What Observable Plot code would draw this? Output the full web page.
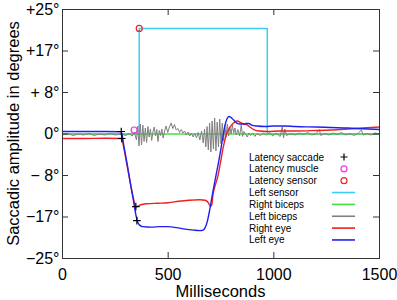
<!DOCTYPE html>
<html><head><meta charset="utf-8">
<script src="https://cdn.jsdelivr.net/npm/d3@7"></script>
<script src="https://cdn.jsdelivr.net/npm/@observablehq/plot@0.6"></script>
<style>body{margin:0;background:#fff}</style>
</head><body><div id="chart"></div>
<script>
// ---- data ----
const xTicks = [0, 500, 1000, 1500];
const yTicks = [-25, -50/3, -25/3, 0, 25/3, 50/3, 25];
const yTickLabels = ["\u221225\u00b0", "\u221217\u00b0", "\u2212 8\u00b0", "0\u00b0", "+ 8\u00b0", "+17\u00b0", "+25\u00b0"];
const xLabel = "Milliseconds";
const yLabel = "Saccadic amplitude in degrees";

const seriesNames = ["Latency saccade", "Latency muscle", "Latency sensor", "Left sensor", "Right biceps", "Left biceps", "Right eye", "Left eye"];
const seriesColors = ["#000000", "#ee33ee", "#ee2222", "#3cccf4", "#44e044", "#808080", "#ee2020", "#2020ee"];

const latencySaccade = [[278, 0.5], [280, -0.9], [347, -14.6], [352, -17.4]];
const latencyMuscle = [[339, 0.8]];
const latencySensor = [[363, 21.2]];

const leftSensor = [[0, 0], [363, 0], [363, 21.2], [969, 21.2], [969, 0], [1500, 0]];
const rightBiceps = [[0, 0], [1500, 0]];
const leftBiceps = [
  [0,-0.2],[25,0.1],[50,-0.3],[75,0.0],[100,-0.2],[125,0.1],[150,-0.3],[175,0.0],[200,-0.2],[225,0.1],
  [250,-0.2],[275,0.0],[300,-0.3],[315,0.1],[330,-0.4],[340,0.3],[350,-1.2],[356,1.6],[362,-2.4],[368,2.0],
  [374,-2.2],[380,1.8],[386,-1.5],[392,1.2],[398,-1.7],[404,1.5],[410,-0.6],[416,1.0],[422,-1.3],[428,0.4],
  [434,1.4],[440,-0.4],[446,0.9],[452,-1.5],[458,0.7],[464,-0.3],[470,1.0],[476,-0.8],[482,0.4],[490,1.6],
  [498,0.3],[506,1.4],[514,2.2],[522,1.1],[530,1.9],[538,0.8],[546,1.1],[554,0.3],[562,0.9],[570,0.2],
  [578,0.6],[586,-0.2],[594,0.4],[602,-0.4],[610,0.2],[618,-0.6],[626,0.1],[634,-0.8],[642,0.3],[650,-1.2],
  [658,0.6],[666,-1.8],[672,1.0],[678,-2.6],[684,1.5],[690,-3.2],[696,2.2],[702,-3.6],[708,2.6],[714,-3.0],
  [720,3.2],[726,-3.4],[732,2.4],[738,-2.6],[744,3.0],[750,-2.0],[756,2.2],[762,-1.4],[768,1.8],[774,-0.6],
  [780,2.0],[786,-0.4],[792,1.4],[798,0.0],[804,1.8],[810,0.2],[816,1.2],[822,-0.2],[830,0.9],[838,-0.4],
  [846,1.8],[852,-0.5],[858,0.5],[866,0.0],[874,-0.6],[882,0.2],[890,-0.3],[900,0.2],[910,-0.5],[920,0.1],
  [935,-0.3],[950,0.1],[965,-0.2],[980,0.3],[995,-0.4],[1010,0.2],[1030,-0.5],[1040,1.5],[1046,-0.8],[1052,1.0],
  [1060,-0.3],[1080,0.1],[1100,-0.2],[1120,0.2],[1140,-0.1],[1160,0.3],[1180,-0.2],[1200,0.1],[1215,0.9],[1222,-0.3],
  [1240,0.1],[1260,-0.2],[1280,0.2],[1300,-0.1],[1320,0.3],[1340,-0.2],[1360,0.1],[1380,-0.3],[1400,0.2],[1415,0.8],
  [1422,-0.2],[1440,0.1],[1460,-0.2],[1480,0.2],[1500,0.0]
];
const rightEye = [
  [0,-0.9],[100,-0.9],[200,-0.85],[280,-0.9],[290,-2.8],[305,-6.2],[320,-9.6],[335,-12.8],[346,-14.6],[356,-14.5],
  [370,-14.2],[400,-14.0],[450,-13.9],[500,-13.8],[550,-13.5],[600,-13.3],[650,-13.2],[675,-13.3],[690,-13.8],[700,-14.5],
  [706,-14.3],[712,-12.2],[722,-10.4],[735,-8.5],[748,-5.6],[760,-2.8],[772,-0.6],[785,0.9],[800,1.8],[815,2.4],
  [828,2.6],[842,2.3],[858,2.0],[875,1.8],[890,1.3],[905,0.9],[930,0.6],[970,0.5],[1030,0.6],[1100,0.6],
  [1200,0.7],[1270,0.8],[1350,1.0],[1420,1.2],[1500,1.4]
];
const leftEye = [
  [0,0.5],[100,0.5],[200,0.5],[278,0.45],[290,-2.3],[305,-5.8],[320,-9.6],[335,-13.2],[348,-16.4],[355,-17.6],
  [365,-18.3],[380,-18.6],[420,-18.7],[460,-18.6],[500,-18.6],[540,-18.8],[580,-19.1],[620,-19.3],[650,-19.4],[665,-19.3],
  [675,-18.8],[685,-17.6],[695,-15.6],[705,-13.2],[715,-10.8],[725,-8.6],[737,-6.0],[748,-3.4],[758,-0.8],[768,1.6],
  [778,3.0],[788,3.5],[798,3.3],[810,2.8],[825,2.2],[840,2.0],[855,2.0],[870,2.1],[882,2.1],[895,1.8],
  [920,1.6],[960,1.5],[1000,1.6],[1050,1.6],[1100,1.5],[1200,1.4],[1270,1.3],[1350,1.2],[1420,1.05],[1500,0.9]
];

// ---- chart ----
const X = d => d[0], Y = d => d[1];
const W = 397, H = 300, ML = 62, MR = 18, MT = 9, MB = 42;
const TICK = 6;
const plotW = W - ML - MR, plotH = H - MT - MB;
const plot = Plot.plot({
  width: W, height: H,
  marginLeft: ML, marginRight: MR, marginTop: MT, marginBottom: MB,
  style: {fontFamily: "'Liberation Sans', Arial, Helvetica, sans-serif", fontSize: "16px", background: "#fff", color: "#000"},
  x: {domain: [0, 1500]},
  y: {domain: [-25, 25]},
  marks: [
    Plot.line(leftSensor, {x: X, y: Y, stroke: seriesColors[3], strokeWidth: 1.5}),
    Plot.line(rightBiceps, {x: X, y: Y, stroke: seriesColors[4], strokeWidth: 1.3}),
    Plot.line(leftBiceps, {x: X, y: Y, stroke: seriesColors[5], strokeWidth: 1}),
    Plot.line(rightEye, {x: X, y: Y, stroke: seriesColors[6], strokeWidth: 1.4, curve: "monotone-x"}),
    Plot.line(leftEye, {x: X, y: Y, stroke: seriesColors[7], strokeWidth: 1.4, curve: "monotone-x"}),
    Plot.dot(latencySaccade, {x: X, y: Y, symbol: "plus", r: 2.6, stroke: seriesColors[0], strokeWidth: 1.2}),
    Plot.dot(latencyMuscle, {x: X, y: Y, r: 3, stroke: seriesColors[1], strokeWidth: 1.2}),
    Plot.dot(latencySensor, {x: X, y: Y, r: 3, stroke: seriesColors[2], strokeWidth: 1.2}),
    // inward ticks on all four sides
    Plot.tickX(xTicks, {x: d => d, insetTop: plotH - TICK, stroke: "#333"}),
    Plot.tickX(xTicks, {x: d => d, insetBottom: plotH - TICK, stroke: "#333"}),
    Plot.tickY(yTicks, {y: d => d, insetRight: plotW - TICK, stroke: "#333"}),
    Plot.tickY(yTicks, {y: d => d, insetLeft: plotW - TICK, stroke: "#333"}),
    Plot.frame({stroke: "#333"}),
    Plot.axisX(xTicks, {tickSize: 0, tickPadding: 10, tickFormat: d => String(d), label: null, fontSize: 16}),
    Plot.axisY(yTicks, {tickSize: 0, tickPadding: 3, tickFormat: d => yTickLabels[yTicks.indexOf(d)], label: null, fontSize: 16})
  ]
});
document.getElementById("chart").appendChild(plot);

const svg = d3.select(plot);
const FONT = "'Liberation Sans', Arial, Helvetica, sans-serif";
// axis titles
svg.append("text").attr("x", ML + plotW / 2).attr("y", 291.5).attr("dy", "0.35em")
  .attr("text-anchor", "middle").attr("font-size", 16.5).attr("font-family", FONT).attr("fill", "#000").text(xLabel);
svg.append("text").attr("transform", `translate(13,${MT + plotH / 2}) rotate(-90)`).attr("dy", "0.35em")
  .attr("text-anchor", "middle").attr("font-size", 16.5).attr("font-family", FONT).attr("fill", "#000").text(yLabel);

// ---- legend (inside plot, lower right) ----
const lg = svg.append("g").attr("font-size", 10).attr("font-family", FONT).attr("text-anchor", "start");
seriesNames.forEach((name, i) => {
  const y = 157 + i * 11.85;
  lg.append("text").attr("x", 249).attr("y", y).attr("dy", "0.35em").attr("fill", "#000").text(name);
  if (i === 0) {
    lg.append("path").attr("d", `M${340.5},${y}h7M${344},${y-3.5}v7`).attr("stroke", "#000").attr("stroke-width", 1.2);
  } else if (i < 3) {
    lg.append("circle").attr("cx", 344).attr("cy", y).attr("r", 3).attr("fill", "none").attr("stroke", seriesColors[i]).attr("stroke-width", 1.2);
  } else {
    lg.append("line").attr("x1", 332).attr("x2", 355).attr("y1", y).attr("y2", y).attr("stroke", seriesColors[i]).attr("stroke-width", 1.6);
  }
});
</script>
</body></html>
